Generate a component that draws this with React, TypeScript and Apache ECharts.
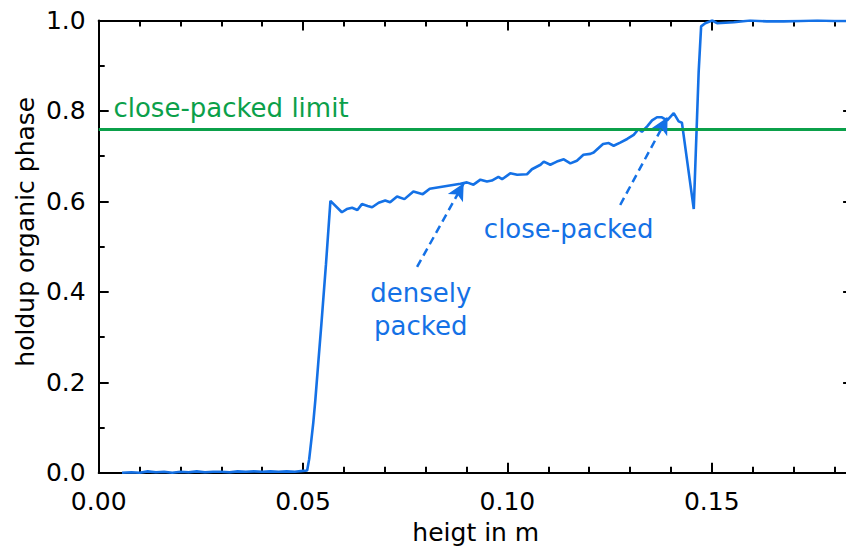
import React, { useEffect, useRef } from "react";
import * as echarts from "echarts";

// height in m
const heights = [
  0.0057, 0.008, 0.010, 0.012, 0.014, 0.016, 0.018, 0.020, 0.022, 0.024, 0.026, 0.028,
  0.030, 0.032, 0.034, 0.036, 0.038, 0.040, 0.042, 0.044, 0.046, 0.048, 0.050, 0.0510,
  0.0515, 0.0520, 0.0525, 0.0530, 0.0537, 0.0545, 0.0556, 0.0567,
  0.0595, 0.0607, 0.0620, 0.0633, 0.0644, 0.0658, 0.0669, 0.0685, 0.0701, 0.0713, 0.0730,
  0.0748, 0.0770, 0.0793, 0.0810, 0.0885, 0.0901, 0.0917, 0.0934, 0.0950, 0.0962, 0.0978,
  0.0987, 0.1007, 0.1024, 0.1048, 0.1060, 0.1081, 0.1089, 0.1105, 0.1121, 0.1138, 0.1154,
  0.1170, 0.1186, 0.1203, 0.1211, 0.1234, 0.1248, 0.1260, 0.1276, 0.1293, 0.1309, 0.1321,
  0.1329, 0.1342, 0.1354, 0.1366, 0.1378, 0.1391, 0.1407, 0.1419, 0.1427, 0.1456, 0.1468,
  0.1474, 0.1484, 0.1501, 0.1513, 0.1554, 0.1594, 0.1635, 0.1676, 0.1717, 0.1758, 0.1800,
  0.1835,
];

// holdup organic phase
const holdup = [
  0.000, 0.001, 0.000, 0.003, 0.001, 0.002, 0.000, 0.002, 0.001, 0.003, 0.001, 0.002,
  0.002, 0.001, 0.003, 0.002, 0.003, 0.002, 0.003, 0.002, 0.003, 0.002, 0.004, 0.005,
  0.030, 0.070, 0.110, 0.160, 0.240, 0.330, 0.460, 0.601,
  0.576, 0.583, 0.586, 0.581, 0.594, 0.590, 0.587, 0.597, 0.602, 0.598, 0.611,
  0.605, 0.622, 0.616, 0.628, 0.639, 0.642, 0.637, 0.648, 0.644, 0.646, 0.654,
  0.649, 0.662, 0.659, 0.660, 0.671, 0.681, 0.688, 0.681, 0.688, 0.693, 0.684,
  0.690, 0.703, 0.705, 0.708, 0.727, 0.729, 0.723, 0.730, 0.738, 0.747, 0.760,
  0.754, 0.766, 0.779, 0.786, 0.786, 0.779, 0.795, 0.777, 0.774, 0.583, 0.887,
  0.987, 0.994, 1.000, 0.994, 0.996, 1.000, 0.998, 0.998, 0.999, 1.000, 0.999,
  0.999,
];

const closePackedLimit = 0.755;

const arrowFrom = [
  [0.0779, 0.455],
  [0.1276, 0.592],
];
const arrowTo = [
  [0.0893, 0.640],
  [0.1392, 0.786],
];

const annotationNames = ["close-packed limit", "close-packed", "densely\npacked"];
const annotationX = [0.0036, 0.115, 0.0788];
const annotationY = [0.807, 0.539, 0.362];

const xTickLabels = ["0.00", "0.05", "0.10", "0.15"];
const yTickLabels = ["0.0", "0.2", "0.4", "0.6", "0.8", "1.0"];

const BLUE = "#1471E6";
const GREEN = "#0BA04A";
const FONT = "DejaVu Sans";

export default function App() {
  const ref = useRef<HTMLDivElement>(null);

  useEffect(() => {
    if (!ref.current) return;
    const chart = echarts.init(ref.current, undefined, { renderer: "svg" });

    const curve = heights.map((h, i) => [h, holdup[i]]);

    const axisLine = { show: true, onZero: false, lineStyle: { color: "#000", width: 2 } };
    const tick = { show: true, inside: true, length: 10, lineStyle: { color: "#000", width: 2 } };

    const option: any = {
      animation: false,
      backgroundColor: "#fff",
      grid: { left: 98.7, top: 20.5, right: 13.9, bottom: 78.3, containLabel: false },
      xAxis: [
        {
          type: "value",
          position: "bottom",
          min: 0,
          max: 0.2,
          interval: 0.05,
          axisLine,
          splitLine: { show: false },
          axisTick: tick,
          minorTick: { show: true, splitNumber: 5, length: 6, lineStyle: { color: "#000", width: 2 } },
          axisLabel: {
            show: true,
            margin: 16,
            fontFamily: FONT,
            fontSize: 25,
            color: "#000",
            showMaxLabel: false,
            formatter: (v: number) => xTickLabels[Math.round(v / 0.05)] ?? "",
          },
        },
        {
          type: "value",
          position: "top",
          min: 0,
          max: 0.2,
          interval: 0.05,
          axisLine,
          splitLine: { show: false },
          axisTick: tick,
          minorTick: { show: true, splitNumber: 5, length: 6, lineStyle: { color: "#000", width: 2 } },
          axisLabel: { show: false },
        },
      ],
      yAxis: [
        {
          type: "value",
          position: "left",
          min: 0,
          max: 1,
          interval: 0.2,
          axisLine,
          splitLine: { show: false },
          axisTick: tick,
          minorTick: { show: true, splitNumber: 2, length: 6, lineStyle: { color: "#000", width: 2 } },
          axisLabel: {
            show: true,
            margin: 13,
            fontFamily: FONT,
            fontSize: 25,
            color: "#000",
            formatter: (v: number) => yTickLabels[Math.round(v / 0.2)] ?? "",
          },
        },
        {
          type: "value",
          position: "right",
          offset: -63,
          min: 0,
          max: 1,
          interval: 0.2,
          axisLine,
          splitLine: { show: false },
          axisTick: tick,
          minorTick: { show: true, splitNumber: 2, length: 6, lineStyle: { color: "#000", width: 2 } },
          axisLabel: { show: false },
        },
      ],
      graphic: [
        {
          type: "text",
          silent: true,
          style: {
            x: 475.8,
            y: 532,
            text: "heigt in m",
            fontFamily: FONT,
            fontSize: 25,
            fill: "#000",
            align: "center",
            verticalAlign: "middle",
          },
        },
        {
          type: "text",
          silent: true,
          x: 25,
          y: 231.7,
          rotation: Math.PI / 2,
          style: {
            x: 0,
            y: 0,
            text: "holdup organic phase",
            fontFamily: FONT,
            fontSize: 25,
            fill: "#000",
            align: "center",
            verticalAlign: "middle",
          },
        },
      ],
      series: [
        {
          type: "line",
          data: curve,
          showSymbol: false,
          symbol: "none",
          lineStyle: { color: BLUE, width: 2.6 },
          silent: true,
          z: 3,
          markLine: {
            silent: true,
            symbol: ["none", "none"],
            label: { show: false },
            lineStyle: { color: GREEN, width: 3, type: "solid" },
            data: [{ yAxis: closePackedLimit }],
          },
        },
        {
          type: "line",
          data: [],
          silent: true,
          z: 4,
          markLine: {
            silent: true,
            symbol: ["none", "arrow"],
            symbolSize: [13, 17],
            label: { show: false },
            lineStyle: { color: BLUE, width: 2.5, type: [8, 5] },
            itemStyle: { color: BLUE },
            data: arrowFrom.map((f, i) => [{ coord: f }, { coord: arrowTo[i] }]),
          },
        },
        {
          type: "scatter",
          silent: true,
          symbolSize: 0,
          z: 5,
          itemStyle: { opacity: 1 },
          data: annotationNames.map((n, i) => ({
            name: n,
            value: [annotationX[i], annotationY[i]],
            label: {
              show: true,
              position: i === 0 ? "right" : "inside",
              distance: 0,
              formatter: n,
              fontFamily: FONT,
              fontSize: 26,
              lineHeight: 33,
              opacity: 1,
              align: i === 0 ? "left" : "center",
              color: i === 0 ? GREEN : BLUE,
            },
          })),
        },
      ],
    };

    chart.setOption(option);
    return () => chart.dispose();
  }, []);

  return (
    <div
      ref={ref}
      style={{ position: "fixed", left: 0, top: 0, width: 930, height: 551, background: "#fff" }}
    />
  );
}
